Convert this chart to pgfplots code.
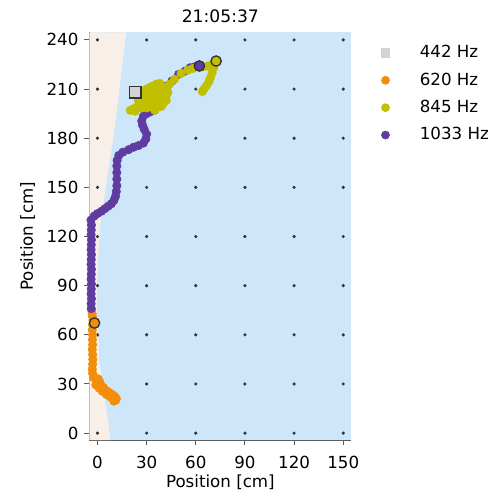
\documentclass[border=0pt]{standalone}
\usepackage{pgfplots}
\pgfplotsset{compat=1.18}
\usepackage{fontspec}
\setmainfont{DejaVu Sans}
\definecolor{bgblue}{RGB}{206,230,250}
\definecolor{beige}{RGB}{248,240,232}
\definecolor{corange}{RGB}{242,142,12}
\definecolor{colive}{RGB}{192,192,0}
\definecolor{cpurple}{RGB}{96,60,160}
\definecolor{sqgray}{RGB}{211,211,211}
\definecolor{spine}{RGB}{90,90,90}
\begin{document}
\begin{tikzpicture}
\useasboundingbox (-53.58pt,-31.2pt) rectangle (242.82pt,264pt);
\begin{axis}[
  at={(0,0)}, anchor=south west,
  x=0.983pt, y=0.983pt,
  xmin=-5, xmax=155, ymin=-4.2, ymax=244.6,
  axis x line*=bottom, axis y line*=left,
  axis line style={spine, line width=0.6pt},
  tick align=outside, major tick length=3pt,
  tick style={spine, line width=0.6pt},
  xtick={0,30,...,150}, ytick={0,30,...,240},
  /pgf/number format/assume math mode=true,
  ticklabel style={font=\fontsize{10}{12}\selectfont},
  xticklabel style={yshift=-3.4pt},
  xlabel style={yshift=3.6pt},
  label style={font=\fontsize{10}{12}\selectfont},
  title style={font=\fontsize{10.3}{12}\selectfont, yshift=-3.6pt},
  xlabel={Position [cm]}, ylabel={Position [cm]},
  title={21:05:37},
  axis background/.style={fill=bgblue},
  clip=true,
  legend cell align=left,
  legend style={at={(1.093,0.985)}, anchor=north west, draw=none, fill=none,
    font=\fontsize{10}{12}\selectfont, row sep=3.5pt, column sep=16pt},
]
\addlegendimage{only marks, mark=square*, mark size=2.6pt, color=sqgray}
\addlegendentry{442 Hz}
\addlegendimage{only marks, mark=*, mark size=2.4pt, color=corange}
\addlegendentry{620 Hz}
\addlegendimage{only marks, mark=*, mark size=2.4pt, color=colive}
\addlegendentry{845 Hz}
\addlegendimage{only marks, mark=*, mark size=2.4pt, color=cpurple}
\addlegendentry{1033 Hz}

% background region
\addplot[fill=beige, draw=none, forget plot] coordinates {
(-5,-4.2) (8,-4.2) (4,24) (1,45) (-0.5,80) (0.5,110) (2,130) (3.7,141) (10.4,185) (17.5,244.6) (-5,244.6) (-5,-4.2)};

% grid dots
\addplot[only marks, mark=*, mark size=0.75pt, color=black!80, forget plot] coordinates {
(0,0) (30,0) (60,0) (90,0) (120,0) (150,0)
(0,30) (30,30) (60,30) (90,30) (120,30) (150,30)
(0,60) (30,60) (60,60) (90,60) (120,60) (150,60)
(0,90) (30,90) (60,90) (90,90) (120,90) (150,90)
(0,120) (30,120) (60,120) (90,120) (120,120) (150,120)
(0,150) (30,150) (60,150) (90,150) (120,150) (150,150)
(0,180) (30,180) (60,180) (90,180) (120,180) (150,180)
(0,210) (30,210) (60,210) (90,210) (120,210) (150,210)
(0,240) (30,240) (60,240) (90,240) (120,240) (150,240)
};

% 620 Hz
\addplot[only marks, mark=*, mark size=2.5pt, color=corange, forget plot] coordinates {
(-3.5,75) (-3.3,73) (-3,71) (-2.8,69) (-3,66) (-3.2,63) (-3,60) (-3.1,57) (-3,54)
(-3.2,51) (-3,48) (-2.9,45) (-3,42) (-3.2,39) (-3,36.5) (-2.5,34) (-1,33.5) (0.5,33)
(1.5,31) (0,30.5) (2,29) (-1,29.5) (1,27.5) (3.5,28) (4.5,26.5) (3,25.5) (6,25.5) (5.5,23.5) (7.5,24.5) (9,23.5) (8,22) (10.5,22.5)
(11.5,21) (11,20) (10,19.5)};

% 1033 Hz
\addplot[only marks, mark=*, mark size=2.5pt, color=cpurple, forget plot] coordinates {
(-3.8,76) (-3.9,79) (-3.7,82) (-3.9,85) (-3.8,88) (-3.7,91) (-3.9,94) (-3.8,97)
(-3.7,100) (-3.9,103) (-3.8,106) (-3.7,109) (-3.9,112) (-3.8,115) (-3.7,118)
(-3.9,121) (-3.8,124) (-3.7,127) (-4,130) (-2,132.5) (0,134) (2.5,135.5) (4.5,137)
(6.5,138.5) (8.5,140) (10,142) (11,144.5) (11.5,147.5) (11.8,151) (11.8,155)
(11.8,159) (11.8,163) (12,166.5) (13,169.5) (15.5,171.5) (19,173) (22,174.5)
(25,175.5) (28,177) (29.5,179.5) (30,182.5) (28.5,185.5) (27.5,188) (27,190.5)
(28,193.5) (30,195) (32,196) (35,197.5) (37,200) (38.5,203) (39.5,206) (41,209)
(42.5,212) (45.5,215) (49.5,219) (53.5,221) (56.5,223) (59,223.5)};

% 845 Hz
\addplot[only marks, mark=*, mark size=2.5pt, color=colive, forget plot] coordinates {
(20,197) (23,196.5) (22,198) (24,199) (26,200) (28,201) (30,202) (32,203) (34,204)
(36,205) (38,206) (40,204) (42,203) (40,201) (37,199) (35,197) (33,199) (31,200)
(29,204) (27,206) (28,209) (30,210) (32,211) (34,212) (36,213) (38,213.5) (37,210)
(35,208) (33,207) (31,206) (38,209) (40,208) (42,206) (43,208) (41,211)
(25,203) (27,198.5) (30,198.5) (33,201) (36,202) (39,199.5) (41,203) (29,207.5) (33,209.5) (36,211) (39,211.5)
(44,213) (47,216) (51,219.5) (55,221.5) (58,222.5)
(64,223.5) (67,224) (70,225) (72,226.5) (71,223) (70,220) (69,217) (68,214.5)
(66.5,212) (65,210) (64,208.5)};

% highlighted current positions
\addplot[only marks, mark=square*, mark size=3.4pt, fill=sqgray, draw=black!80, line width=0.8pt, forget plot] coordinates {(23,208)};
\addplot[only marks, mark=*, mark size=3.1pt, fill=corange, draw=black!80, line width=0.8pt, forget plot] coordinates {(-1.8,67.2)};
\addplot[only marks, mark=*, mark size=3.1pt, fill=colive, draw=black!80, line width=0.8pt, forget plot] coordinates {(72.4,227.1)};
\addplot[only marks, mark=*, mark size=3.1pt, fill=cpurple, draw=black!80, line width=0.8pt, forget plot] coordinates {(62.2,224.1)};
\end{axis}
\end{tikzpicture}
\end{document}
